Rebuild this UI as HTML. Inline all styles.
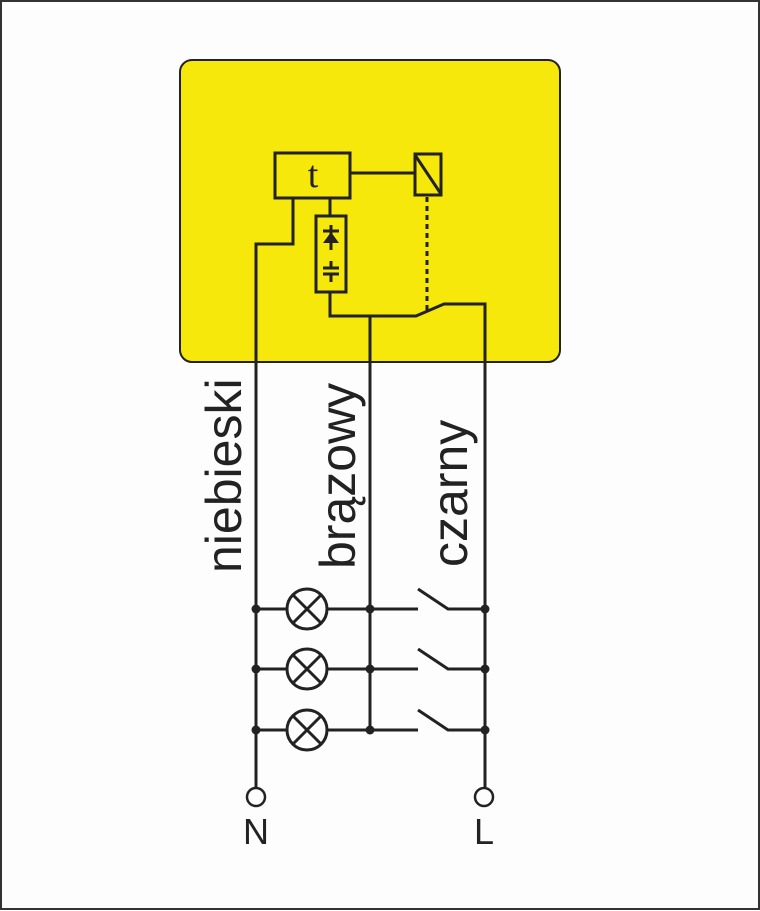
<!DOCTYPE html>
<html><head><style>html,body{margin:0;padding:0;background:#fff}svg{display:block}</style></head>
<body>
<svg width="760" height="911" viewBox="0 0 760 911" xmlns="http://www.w3.org/2000/svg">
<rect x="1" y="1" width="758" height="908" fill="#fdfdfd" stroke="#333" stroke-width="2"/>
<rect x="180" y="60" width="380" height="302" rx="12" fill="#f6e80a" stroke="#222" stroke-width="2"/>
<g stroke="#222" stroke-width="3" fill="none">
<rect x="275" y="153" width="75" height="45"/>
<rect x="415" y="154" width="26" height="41"/>
<line x1="415" y1="155" x2="441" y2="194"/>
<line x1="350" y1="173" x2="415" y2="173"/>
<rect x="316" y="216" width="30" height="76"/>
<line x1="330" y1="198" x2="330" y2="216"/>
<polyline points="293,198 293,244 256,244 256,787"/>
<polyline points="330,292 330,316 416,316 444,304 485,304 485,787"/>
<line x1="370" y1="316" x2="370" y2="730"/>
<line x1="427" y1="197" x2="427" y2="310" stroke-dasharray="5,4"/>
<line x1="323" y1="231" x2="339" y2="231"/>
<line x1="331" y1="225" x2="331" y2="250"/>
<line x1="323" y1="268" x2="339" y2="268"/>
<line x1="323" y1="274" x2="339" y2="274"/>
<line x1="331" y1="261" x2="331" y2="268"/>
<line x1="331" y1="274" x2="331" y2="282"/>
</g>
<polygon points="323,243 339,243 331,232" fill="#222"/>
<text x="313" y="187" font-family="Liberation Serif, serif" font-size="38" text-anchor="middle" fill="#222">t</text>
<g stroke="#222" stroke-width="3" fill="none">
<g id="row">
<line x1="256" y1="609" x2="286" y2="609"/>
<circle cx="307" cy="609" r="20"/>
<line x1="293" y1="595" x2="321" y2="623"/>
<line x1="321" y1="595" x2="293" y2="623"/>
<line x1="328" y1="609" x2="418" y2="609"/>
<polyline points="418,589 448,609 485,609"/>
</g>
<use href="#row" y="60"/>
<use href="#row" y="121"/>
<circle cx="256" cy="797" r="9" stroke-width="2.5"/>
<circle cx="484" cy="797" r="9" stroke-width="2.5"/>
</g>
<g fill="#222">
<circle cx="256" cy="609" r="4.5"/><circle cx="370" cy="609" r="4.5"/><circle cx="485" cy="609" r="4.5"/>
<circle cx="256" cy="669" r="4.5"/><circle cx="370" cy="669" r="4.5"/><circle cx="485" cy="669" r="4.5"/>
<circle cx="256" cy="730" r="4.5"/><circle cx="370" cy="730" r="4.5"/><circle cx="485" cy="730" r="4.5"/>
</g>
<g font-family="Liberation Sans, sans-serif" font-size="50" fill="#222">
<text transform="translate(241,573) rotate(-90)">niebieski</text>
<text transform="translate(355,569) rotate(-90)">brązowy</text>
<text transform="translate(467,567) rotate(-90)">czarny</text>
</g>
<g font-family="Liberation Sans, sans-serif" font-size="36" fill="#222" text-anchor="middle">
<text x="256" y="844">N</text>
<text x="484" y="844">L</text>
</g>
</svg>
</body></html>
